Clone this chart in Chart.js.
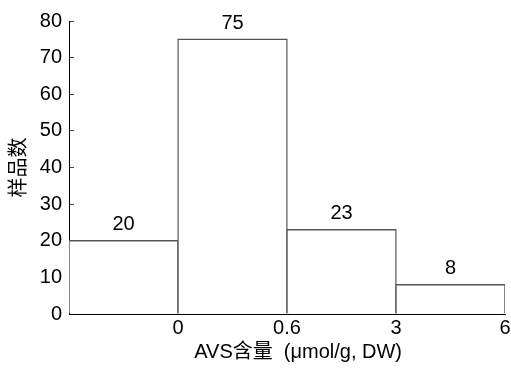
<!DOCTYPE html>
<html>
<head>
<meta charset="utf-8">
<script src="https://cdn.jsdelivr.net/npm/chart.js@4.4.0/dist/chart.umd.min.js"></script>
<style>
  body { margin: 0; background: #fff; }
  #wrap { width: 511px; height: 370px; }
</style>
</head>
<body>
<div id="wrap"><canvas id="canvas" width="511" height="370"></canvas></div>
<script>
var binCenters = [0.5, 1.5, 2.5, 3.5];
var sampleCounts = [20, 75, 23, 8];
var xTickLabels = ["", "0", "0.6", "3", "6"];
var yTitle = "样品数";
var xTitle = "    AVS含量  (μmol/g, DW)";

var fontFamily = "'Liberation Sans', Arial, 'Noto Sans CJK SC', sans-serif";
var ctx = document.getElementById('canvas').getContext('2d');

// numbers above each bar
var valueLabels = {
    id: 'valueLabels',
    afterDatasetsDraw: function (chart) {
        var c = chart.ctx;
        var meta = chart.getDatasetMeta(0);
        c.save();
        c.fillStyle = '#000';
        c.font = '20px ' + fontFamily;
        c.textAlign = 'center';
        c.textBaseline = 'middle';
        meta.data.forEach(function (bar, i) {
            c.fillText(String(sampleCounts[i]), bar.x, bar.y - 16);
        });
        c.restore();
    }
};

var data = [];
for (let i = 0; i < binCenters.length; i++) {
    data.push({ x: binCenters[i], y: sampleCounts[i] });
}

var myChart = new Chart(ctx, {
    type: 'bar',
    data: {
        datasets: [{
            data: data,
            backgroundColor: '#fff',
            borderColor: '#555',
            borderWidth: 1.4,
            inflateAmount: 0.7,
            barPercentage: 1,
            categoryPercentage: 1
        }]
    },
    options: {
        responsive: false,
        animation: false,
        layout: { padding: { top: 0, right: 0, left: 4, bottom: 0 } },
        plugins: {
            legend: { display: false },
            tooltip: { enabled: false }
        },
        scales: {
            x: {
                type: 'linear',
                min: 0,
                max: 4,
                offset: false,
                afterFit: function (scale) {
                    scale.height = 56;
                    scale.paddingRight = 6;
                },
                grid: { display: false, drawTicks: false },
                border: { color: '#000', width: 1 },
                ticks: {
                    stepSize: 1,
                    autoSkip: false,
                    maxRotation: 0,
                    color: '#000',
                    font: { size: 20, family: fontFamily },
                    padding: 2,
                    callback: function (v) { return xTickLabels[Math.round(v)]; }
                },
                title: {
                    display: true,
                    text: xTitle,
                    color: '#000',
                    font: { size: 20, family: fontFamily },
                    padding: { top: 0, bottom: 6 }
                }
            },
            y: {
                min: 0,
                max: 80,
                afterFit: function (scale) {
                    scale.width = 65;
                    scale.paddingTop = 21;
                },
                grid: { drawOnChartArea: false, tickLength: -5, color: '#444' },
                border: { color: '#000', width: 1 },
                ticks: {
                    stepSize: 10,
                    color: '#000',
                    font: { size: 20, family: fontFamily },
                    padding: 12
                },
                title: {
                    display: true,
                    text: yTitle,
                    color: '#000',
                    font: { size: 20, family: fontFamily },
                    padding: { top: 3, bottom: 8 }
                }
            }
        }
    },
    plugins: [valueLabels]
});
</script>
</body>
</html>
